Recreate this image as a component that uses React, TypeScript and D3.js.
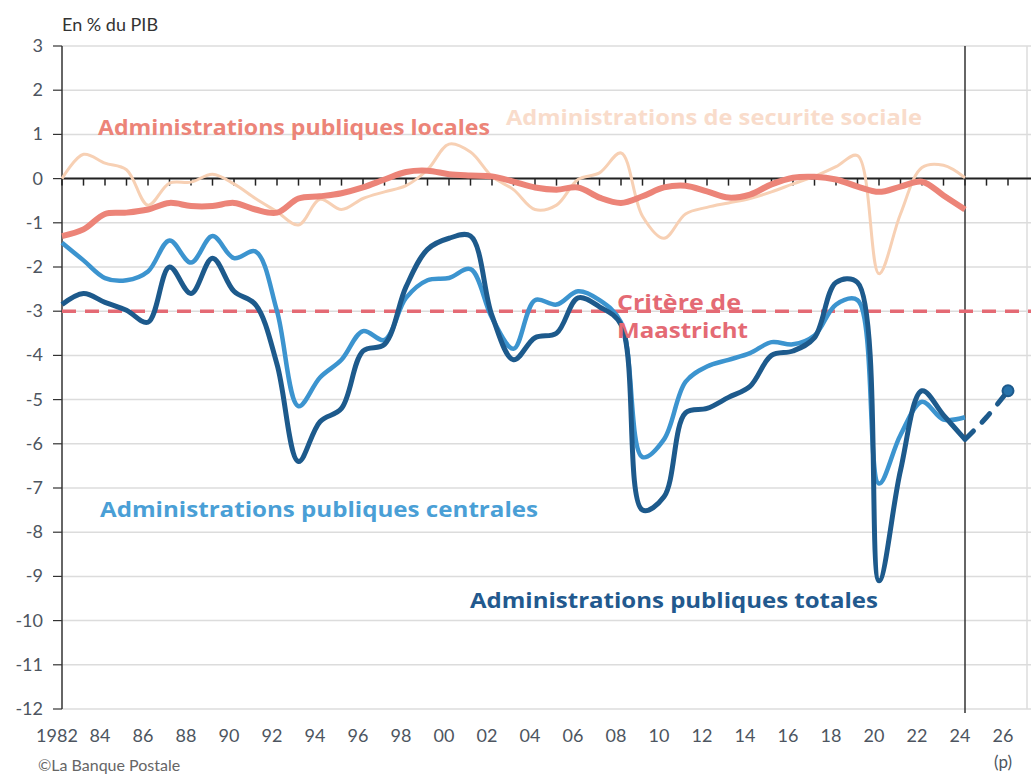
import React, { useEffect, useRef } from 'react';
import * as d3 from 'd3';

// annual balances, % of GDP
const years = [
  1982, 1983, 1984, 1985, 1986, 1987, 1988, 1989, 1990, 1991,
  1992, 1993, 1994, 1995, 1996, 1997, 1998, 1999, 2000, 2001,
  2002, 2003, 2004, 2005, 2006, 2007, 2008, 2009, 2010, 2011,
  2012, 2013, 2014, 2015, 2016, 2017, 2018, 2019, 2020, 2021,
  2022, 2023, 2024,
];
const totales = [
  -2.85, -2.6, -2.8, -2.98, -3.25, -2.0, -2.6, -1.8, -2.55, -2.85,
  -4.2, -6.4, -5.5, -5.2, -3.9, -3.75, -2.45, -1.6, -1.35, -1.3,
  -3.1, -4.1, -3.6, -3.5, -2.7, -2.9, -3.3, -7.5, -7.2, -5.3,
  -5.2, -4.95, -4.7, -4.0, -3.9, -3.6, -2.35, -2.35, -9.1, -6.6,
  -4.8, -5.35, -5.9,
];
const centrales = [
  -1.45, -1.85, -2.25, -2.3, -2.1, -1.4, -1.9, -1.3, -1.8, -1.65,
  -3.0, -5.15, -4.5, -4.1, -3.45, -3.65, -2.7, -2.3, -2.25, -2.05,
  -3.15, -3.85, -2.75, -2.85, -2.55, -2.75, -3.25, -6.3, -5.9, -4.6,
  -4.25, -4.1, -3.95, -3.7, -3.75, -3.55, -2.85, -2.75, -6.9, -5.8,
  -5.05, -5.45, -5.4,
];
const locales = [
  -1.3, -1.15, -0.8, -0.77, -0.7, -0.55, -0.62, -0.62, -0.55, -0.7,
  -0.77, -0.45, -0.4, -0.33, -0.2, -0.02, 0.15, 0.18, 0.1, 0.07,
  0.05, -0.07, -0.2, -0.25, -0.2, -0.43, -0.55, -0.4, -0.2, -0.16,
  -0.29, -0.43, -0.36, -0.13, 0.02, 0.04, -0.02, -0.18, -0.3, -0.18,
  -0.07, -0.38, -0.7,
];
const securite = [
  0.0, 0.55, 0.35, 0.2, -0.6, -0.1, -0.08, 0.1, -0.12, -0.45,
  -0.75, -1.05, -0.47, -0.7, -0.45, -0.3, -0.16, 0.2, 0.78, 0.6,
  0.05, -0.25, -0.7, -0.6, -0.02, 0.13, 0.58, -0.85, -1.35, -0.8,
  -0.65, -0.55, -0.45, -0.3, -0.12, 0.05, 0.27, 0.52, -2.15, -0.8,
  0.25, 0.3, 0.02,
];
// forecast for the total
const projYears = [2024, 2025, 2026];
const projTotales = [-5.9, -5.4, -4.8];

const maastricht = -3;
const yTicks = [3, 2, 1, 0, -1, -2, -3, -4, -5, -6, -7, -8, -9, -10, -11, -12];
const xLabelYears = [1982, 1984, 1986, 1988, 1990, 1992, 1994, 1996, 1998, 2000, 2002,
  2004, 2006, 2008, 2010, 2012, 2014, 2016, 2018, 2020, 2022, 2024, 2026];
const xLabels = ['1982', '84', '86', '88', '90', '92', '94', '96', '98', '00', '02',
  '04', '06', '08', '10', '12', '14', '16', '18', '20', '22', '24', '26'];

const C_TOT = '#1d5a8c';
const C_CEN = '#3c94cf';
const C_LOC = '#ec8478';
const C_SEC = '#f7d0b4';
const C_MAA = '#e46a74';

function App() {
  const svgRef = useRef<SVGSVGElement>(null);

  useEffect(() => {
    if (!svgRef.current) return;
    const width = 1031;
    const height = 775;
    const svg = d3.select(svgRef.current);
    svg.selectAll('*').remove();

    const x = d3.scaleLinear().domain([1982, 2026]).range([62, 1008]);
    const y = d3.scaleLinear().domain([-12, 3]).range([709, 46]);
    const left = x(1982);
    const right = width;

    svg.append('rect').attr('width', width).attr('height', height).attr('fill', '#fff');

    // gridlines
    svg.append('g').selectAll('line').data(yTicks).join('line')
      .attr('x1', left).attr('x2', right)
      .attr('y1', d => y(d)).attr('y2', d => y(d))
      .attr('stroke', '#dcdcdc').attr('stroke-width', 1.5);

    // right border of plot
    svg.append('line')
      .attr('x1', 1027).attr('x2', 1027).attr('y1', y(3)).attr('y2', y(-12))
      .attr('stroke', '#dcdcdc').attr('stroke-width', 1.5);

    // y axis
    svg.append('line')
      .attr('x1', left).attr('x2', left).attr('y1', y(3)).attr('y2', y(-12))
      .attr('stroke', '#333').attr('stroke-width', 1.5);
    svg.append('g').selectAll('line').data(yTicks).join('line')
      .attr('x1', left - 9).attr('x2', left)
      .attr('y1', d => y(d)).attr('y2', d => y(d))
      .attr('stroke', '#333').attr('stroke-width', 1.2);
    svg.append('g').selectAll('text').data(yTicks).join('text')
      .attr('x', 43).attr('y', d => y(d) + 6)
      .attr('text-anchor', 'end')
      .attr('font-family', 'Lato, "Noto Sans", sans-serif')
      .attr('font-size', 18)
      .attr('fill', '#4d5560')
      .text(d => String(d));

    // zero line with yearly ticks
    svg.append('line')
      .attr('x1', left).attr('x2', right).attr('y1', y(0)).attr('y2', y(0))
      .attr('stroke', '#222').attr('stroke-width', 2);
    const allYears = years.concat([2025, 2026]);
    svg.append('g').selectAll('line').data(allYears).join('line')
      .attr('x1', d => x(d)).attr('x2', d => x(d))
      .attr('y1', y(0)).attr('y2', y(0) + 7)
      .attr('stroke', '#222').attr('stroke-width', 1.5);

    // x labels
    svg.append('g').selectAll('text').data(xLabelYears).join('text')
      .attr('x', d => x(d) - 5).attr('y', 742)
      .attr('text-anchor', 'middle')
      .attr('font-family', 'Lato, "Noto Sans", sans-serif')
      .attr('font-size', 18)
      .attr('fill', '#4d5560')
      .text((d, i) => xLabels[i]);
    svg.append('text')
      .attr('x', x(2026) - 5).attr('y', 768)
      .attr('text-anchor', 'middle')
      .attr('font-family', 'Lato, "Noto Sans", sans-serif')
      .attr('font-size', 17)
      .attr('fill', '#4d5560')
      .text('(p)');

    // vertical separator at 2024
    svg.append('line')
      .attr('x1', x(2024)).attr('x2', x(2024)).attr('y1', y(3)).attr('y2', y(-12) + 4)
      .attr('stroke', '#333').attr('stroke-width', 1.5);

    // Maastricht criterion
    svg.append('line')
      .attr('x1', left).attr('x2', right).attr('y1', y(maastricht)).attr('y2', y(maastricht))
      .attr('stroke', C_MAA).attr('stroke-width', 3.5)
      .attr('stroke-dasharray', '14,9');

    const line = d3.line<number>()
      .x((d, i) => x(years[i]))
      .y(d => y(d))
      .curve(d3.curveCatmullRom.alpha(0.5));

    svg.append('path').attr('d', line(securite))
      .attr('fill', 'none').attr('stroke', C_SEC).attr('stroke-width', 3);
    svg.append('path').attr('d', line(locales))
      .attr('fill', 'none').attr('stroke', C_LOC).attr('stroke-width', 6);
    svg.append('path').attr('d', line(centrales))
      .attr('fill', 'none').attr('stroke', C_CEN).attr('stroke-width', 4.5);
    svg.append('path').attr('d', line(totales))
      .attr('fill', 'none').attr('stroke', C_TOT).attr('stroke-width', 5);

    // forecast
    const projLine = d3.line<number>()
      .x((d, i) => x(projYears[i]))
      .y(d => y(d))
      .curve(d3.curveCatmullRom.alpha(0.5));
    svg.append('path').attr('d', projLine(projTotales))
      .attr('fill', 'none').attr('stroke', C_TOT).attr('stroke-width', 5)
      .attr('stroke-linecap', 'round')
      .attr('stroke-dasharray', '12,12');
    svg.append('circle')
      .attr('cx', x(projYears[2])).attr('cy', y(projTotales[2])).attr('r', 5.5)
      .attr('fill', '#2672ab').attr('stroke', C_TOT).attr('stroke-width', 2);

    // titles and annotations
    svg.append('text')
      .attr('x', 62).attr('y', 31)
      .attr('font-family', 'Lato, "Noto Sans", sans-serif')
      .attr('font-size', 18).attr('fill', '#333')
      .text('En % du PIB');
    svg.append('text')
      .attr('x', 38).attr('y', 771)
      .attr('font-family', 'Lato, "Noto Sans", sans-serif')
      .attr('font-size', 16).attr('fill', '#666')
      .text('©La Banque Postale');

    const notes = [
      { t: 'Administrations publiques locales', x: 98, y: 135, w: 392, c: C_LOC },
      { t: 'Administrations de securite sociale', x: 506, y: 125, w: 416, c: '#f9dccb' },
      { t: 'Critère de', x: 617, y: 310, w: 124, c: C_MAA },
      { t: 'Maastricht', x: 617, y: 338, w: 131, c: C_MAA },
      { t: 'Administrations publiques centrales', x: 100, y: 517, w: 438, c: '#4a9fd6' },
      { t: 'Administrations publiques totales', x: 470, y: 608, w: 408, c: '#22598e' },
    ];
    svg.append('g').selectAll('text').data(notes).join('text')
      .attr('x', d => d.x).attr('y', d => d.y)
      .attr('font-family', '"Open Sans", "Noto Sans", sans-serif')
      .attr('font-weight', 700)
      .attr('font-size', 21)
      .attr('textLength', d => d.w)
      .attr('lengthAdjust', 'spacingAndGlyphs')
      .attr('fill', d => d.c)
      .text(d => d.t);
  }, []);

  return (
    <svg
      ref={svgRef}
      width={1031}
      height={775}
      style={{ position: 'absolute', left: 0, top: 0, display: 'block' }}
    />
  );
}

export default App;
